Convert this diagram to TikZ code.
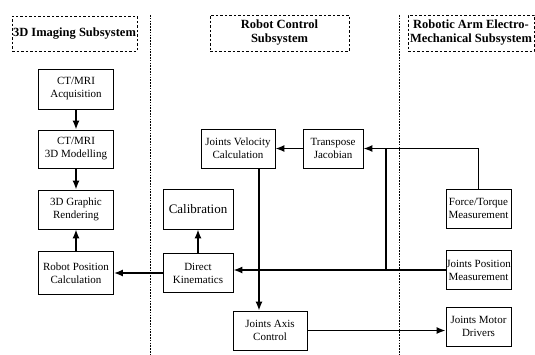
\documentclass[tikz,border=0pt]{standalone}
\usepackage{fontspec}
\setmainfont{Liberation Serif}
\usetikzlibrary{arrows.meta}

\tikzset{
  block/.style={draw, line width=0.9pt, align=center, inner sep=0pt,
                font=\fontsize{11}{13}\selectfont},
  title/.style={draw, line width=0.9pt, dash pattern=on 2.5pt off 2pt,
                align=center, inner sep=0pt,
                font=\fontsize{12.5}{14}\selectfont\bfseries},
  divider/.style={line width=0.8pt, dash pattern=on 1.5pt off 1.3pt},
  flow/.style={line width=1.4pt, -{Latex[length=9pt,width=7pt]}},
  wire/.style={line width=1.4pt}
}

\begin{document}
\begin{tikzpicture}[x=1pt,y=-1pt]
\useasboundingbox (0,0) rectangle (535,354);

% subsystem titles
\node[title, minimum width=125pt, minimum height=35pt] (t3d) at (74.5,33.5) {3D Imaging Subsystem};
\node[title, minimum width=139pt, minimum height=36pt] (trc) at (279.5,33) {Robot Control\\Subsystem};
\node[title, minimum width=126pt, minimum height=36pt] (tra) at (471,33) {Robotic Arm Electro-\\Mechanical Subsystem};

% dividers
\draw[divider] (150,15) -- (150,354);
\draw[divider] (399,15) -- (399,354);

% 3D imaging column
\node[block, minimum width=75pt, minimum height=40pt] (acq)    at (76,89)    {CT/MRI\\Acquisition};
\node[block, minimum width=75pt, minimum height=38pt] (model)  at (76,149)   {CT/MRI\\3D Modelling};
\node[block, minimum width=75pt, minimum height=39pt] (render) at (76,209.5) {3D Graphic\\Rendering};
\node[block, minimum width=75pt, minimum height=43pt] (robpos) at (76,273)   {Robot Position\\Calculation};

% robot control column
\node[block, minimum width=74pt, minimum height=39pt] (jvel)  at (238,148.5) {Joints Velocity\\Calculation};
\node[block, minimum width=60pt, minimum height=39pt] (tjac)  at (333,148.5) {Transpose\\Jacobian};
\node[block, minimum width=70pt, minimum height=40pt, font=\fontsize{13}{15}\selectfont] (calib) at (198,209) {Calibration};
\node[block, minimum width=70pt, minimum height=39pt] (dkin)  at (198,273)   {Direct\\Kinematics};
\node[block, minimum width=74pt, minimum height=39pt] (jaxis) at (270,330.5) {Joints Axis\\Control};

% electro-mechanical column
\node[block, minimum width=65pt, minimum height=39pt] (ftm) at (478.5,208.5) {Force/Torque\\Measurement};
\node[block, minimum width=65pt, minimum height=39pt] (jpm) at (478.5,270)   {Joints Position\\Measurement};
\node[block, minimum width=65pt, minimum height=39pt] (jmd) at (478.5,326.5) {Joints Motor\\Drivers};

\coordinate (vx) at (259,0);
\coordinate (jn) at (386,0);

% connectors
\draw[flow] (acq) -- (model);
\draw[flow] (model) -- (render);
\draw[flow] (robpos) -- (render);
\draw[flow] (dkin.west) -- (robpos.east |- dkin.west);
\draw[flow] (dkin) -- (calib);
\draw[flow] (tjac) -- (jvel);
\draw[flow] (jvel.south -| vx) -- (jaxis.north -| vx);
\draw[flow] (jaxis.east) -- (jmd.west |- jaxis.east);
\draw[flow] (ftm.north) |- (tjac.east);
\draw[flow] (jpm.west) -- (dkin.east |- jpm.west);
\draw[wire] (jn |- tjac.east) -- (jn |- jpm.west);
\end{tikzpicture}
\end{document}
